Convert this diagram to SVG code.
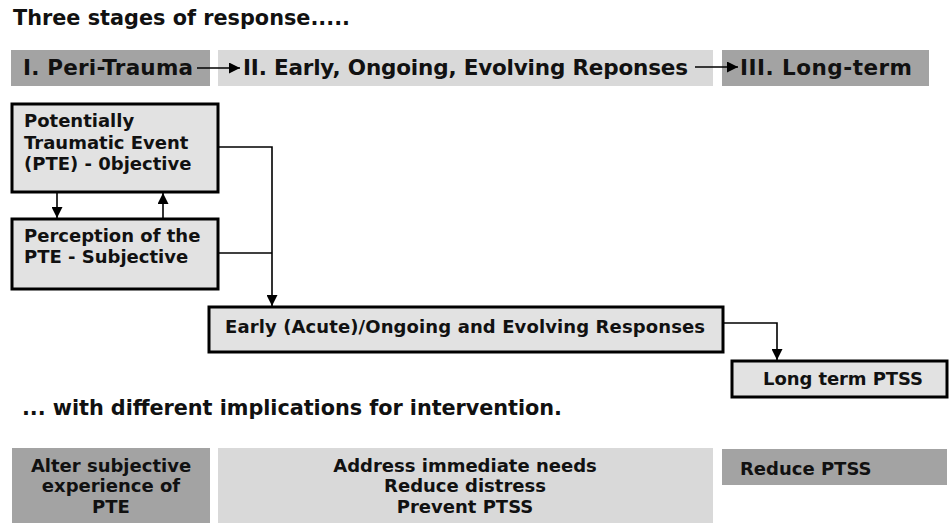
<svg xmlns="http://www.w3.org/2000/svg" width="949" height="523" viewBox="0 0 949 523">
<defs>
<style>
text{font-family:"DejaVu Sans","Liberation Sans",sans-serif;font-weight:bold;fill:#111}
.hd{font-size:21.5px}
.nd{font-size:18px}
.ttl{font-size:20.8px}
.node{fill:#e2e2e2;stroke:#000;stroke-width:3}
.dark{fill:#a3a3a3}
.light{fill:#d9d9d9}
.conn{fill:none;stroke:#000;stroke-width:1.6}
</style>
<marker id="ah" viewBox="0 0 10 10" refX="10" refY="5" markerWidth="11" markerHeight="11" markerUnits="userSpaceOnUse" orient="auto">
<path d="M0,0 L10,5 L0,10 z" fill="#000"/>
</marker>
</defs>
<rect width="949" height="523" fill="#fff"/>
<text class="ttl" x="13" y="25">Three stages of response.....</text>

<g id="stage1"><rect class="dark" x="11" y="50" width="199" height="36"/><text class="hd" x="23" y="75" textLength="170">I. Peri-Trauma</text></g>
<g id="stage2"><rect class="light" x="218" y="50" width="495" height="36"/><text class="hd" x="243" y="75" textLength="445">II. Early, Ongoing, Evolving Reponses</text></g>
<g id="stage3"><rect class="dark" x="722" y="50" width="207" height="36"/><text class="hd" x="740" y="75" textLength="172">III. Long-term</text></g>

<g id="pte"><rect class="node" x="12" y="104" width="206" height="88"/>
<text class="nd" x="24" y="127">Potentially</text>
<text class="nd" x="24" y="149">Traumatic Event</text>
<text class="nd" x="24" y="170">(PTE) - 0bjective</text></g>
<g id="perception"><rect class="node" x="12" y="219" width="206" height="70"/>
<text class="nd" x="24" y="242">Perception of the</text>
<text class="nd" x="24" y="263">PTE - Subjective</text></g>
<g id="early"><rect class="node" x="209" y="307" width="514" height="45"/>
<text class="nd" x="225" y="333" font-size="18.5" textLength="480">Early (Acute)/Ongoing and Evolving Responses</text></g>
<g id="longterm"><rect class="node" x="732" y="361" width="215" height="36"/>
<text class="nd" x="763" y="385" font-size="18.8" textLength="160">Long term PTSS</text></g>

<text class="ttl" x="22" y="415" textLength="540">... with different implications for intervention.</text>

<g id="impl1"><rect class="dark" x="12" y="448" width="198" height="75"/>
<text class="nd" x="111" y="472" text-anchor="middle">Alter subjective</text>
<text class="nd" x="111" y="492" text-anchor="middle">experience of</text>
<text class="nd" x="111" y="513" text-anchor="middle">PTE</text></g>
<g id="impl2"><rect class="light" x="218" y="448" width="495" height="75"/>
<text class="nd" x="465" y="472" text-anchor="middle">Address immediate needs</text>
<text class="nd" x="465" y="492" text-anchor="middle">Reduce distress</text>
<text class="nd" x="465" y="513" text-anchor="middle">Prevent PTSS</text></g>
<g id="impl3"><rect class="dark" x="722" y="449" width="225" height="36"/>
<text class="nd" x="740" y="475">Reduce PTSS</text></g>

<g id="connectors">
<line class="conn" x1="197" y1="68" x2="240" y2="68" marker-end="url(#ah)"/>
<line class="conn" x1="695" y1="67" x2="738" y2="67" marker-end="url(#ah)"/>
<line class="conn" x1="57" y1="193" x2="57" y2="218" marker-end="url(#ah)"/>
<line class="conn" x1="163" y1="218" x2="163" y2="193" marker-end="url(#ah)"/>
<polyline class="conn" points="219,147 272,147 272,306" marker-end="url(#ah)"/>
<line class="conn" x1="219" y1="253" x2="272" y2="253"/>
<polyline class="conn" points="724,323 777,323 777,360" marker-end="url(#ah)"/>
</g>
</svg>
